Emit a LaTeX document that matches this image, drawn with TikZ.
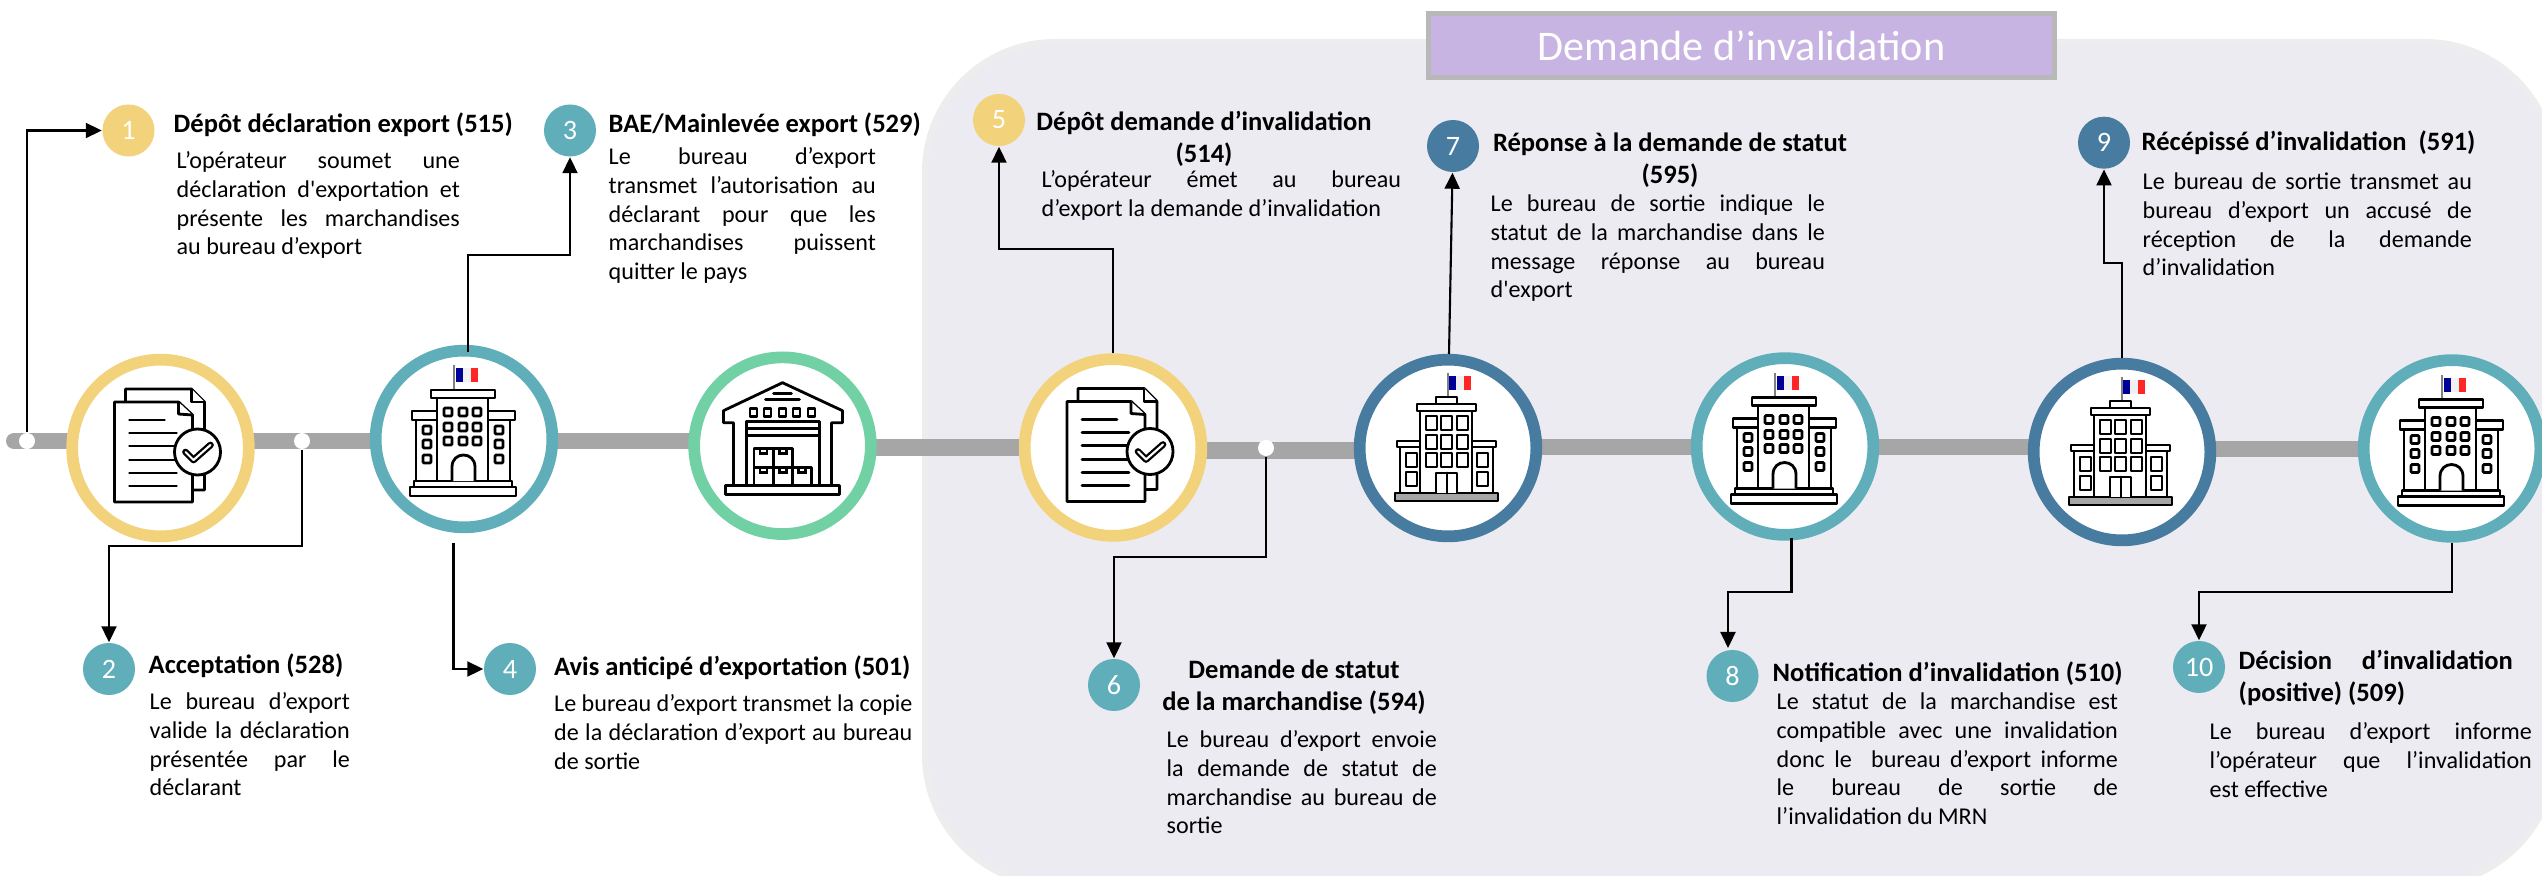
\documentclass[tikz,border=0pt]{standalone}
\usepackage{fontspec}
\setmainfont[Ligatures=TeXOff]{Carlito}
\usetikzlibrary{arrows.meta,backgrounds}
\definecolor{sandy}{HTML}{F2D27A}
\definecolor{teal}{HTML}{5FAEB9}
\definecolor{steel}{HTML}{477BA0}
\definecolor{mint}{HTML}{72D1A4}
\definecolor{panel}{HTML}{EDEBF2}
\definecolor{lilac}{HTML}{C7B4E2}
\definecolor{track}{HTML}{A6A6A6}
\tikzset{
	ring/.style={circle,draw,fill=white,line width=0.117cm,minimum size=1.766cm,inner sep=0pt},
	badge/.style={circle,text=white,minimum size=0.52cm,inner sep=0pt,font=\fontsize{8}{9}\selectfont},
	dot/.style={circle,fill=white,minimum size=0.16cm,inner sep=0pt},
	trackline/.style={draw=track,line width=0.16cm},
	flow/.style={line width=0.6pt,-{Triangle[length=0.16cm,width=0.15cm]}},
	heading/.style={anchor=base west,inner sep=0pt,font=\fontsize{7.55}{9.1}\selectfont\bfseries},
	headingbox/.style={anchor=north,inner sep=0pt,align=center,execute at begin node=\strut,font=\fontsize{7.55}{9.1}\selectfont\bfseries},
	bodytext/.style={anchor=north west,inner sep=0pt,align=justify,execute at begin node=\strut,font=\fontsize{6.85}{8.16}\selectfont},
	icon/.style={draw=black,fill=white,line width=0.8pt,line join=round},
	iconline/.style={draw=black,line width=0.8pt,line cap=round},
	tricolor/.pic={
		\fill[blue!60!black] (0,0) rectangle (7.3,14);
		\fill[black!6] (7.3,0) rectangle (14.6,14);
		\fill[red!80!pink] (14.6,0) rectangle (22,14);
	},
	docicon/.pic={
		\draw[icon] (-35,-46) -- (-35,-59) -- (31,-59) -- (44,-46) -- (44,42) -- (30,42);
		\draw[icon] (31,-59) -- (31,-46) -- (44,-46);
		\draw[icon] (-46,-46) -- (18,-46) -- (32,-33) -- (32,54) -- (-46,54) -- cycle;
		\draw[icon] (18,-46) -- (18,-34) -- (32,-33);
		\draw[iconline] (-31,-28) -- (4,-28);
		\draw[iconline] (-31,-15) -- (16,-15);
		\draw[iconline] (-31,-2) -- (16,-2);
		\draw[iconline] (-31,12) -- (16,12);
		\draw[iconline] (-31,25) -- (16,25);
		\draw[iconline] (-31,38) -- (16,38);
		\draw[icon] (37,4) circle (0.23cm);
		\draw[line width=1.9pt,line join=round,line cap=round] (25,4) -- (33,12) -- (50,-3);
		\draw[white,line width=0.6pt,line join=round,line cap=round] (25,4) -- (33,12) -- (50,-3);
	},
	townhall/.pic={
		\pic at (-8,-71) {tricolor};
		\draw[gray,line width=0.5pt] (-10,-74) -- (-10,-50);
		\draw[icon] (-48,-19) rectangle (-27,42);
		\draw[icon] (24,-19) rectangle (46,42);
		\draw[icon] (-52,-28) rectangle (-27,-19);
		\draw[icon] (24,-28) rectangle (51,-19);
		\draw[icon] (-27,-41) rectangle (24,42);
		\draw[icon] (-33,-49) rectangle (31,-41);
		\draw[icon] (-50,42) rectangle (48,48);
		\draw[icon] (-54,48) rectangle (52,57);
		\draw[icon] (-12,42) -- (-12,28) .. controls (-12,12) and (11,12) .. (11,28) -- (11,42);
		\foreach \wx/\wy in {-16/-27,-1/-27,13/-27,-16/-12,-1/-12,13/-12,-16/2,-1/2,13/2,-37/-9,-37/5,-37/20,35/-9,35/5,35/20}
			\draw[icon,rounded corners=0.3pt] (\wx-4,\wy-4) rectangle (\wx+4,\wy+4);
	},
	tallhall/.pic={
		\pic at (1,-72) {tricolor};
		\draw[gray,line width=0.5pt] (0,-75) -- (0,-51);
		\draw[icon] (-12,-51) rectangle (9,-44);
		\draw[icon] (-48,-1) rectangle (-28,45);
		\draw[icon] (24,-1) rectangle (45,45);
		\draw[icon] (-51,-7) rectangle (-28,-1);
		\draw[icon] (24,-7) rectangle (48,-1);
		\draw[icon] (-28,-37) rectangle (24,45);
		\draw[icon] (-31,-44) rectangle (28,-37);
		\draw[icon,fill=black!35] (-53,45) rectangle (50,53);
		\draw[icon] (-12,45) -- (-12,25) -- (9,25) -- (9,45);
		\draw[iconline] (-1,25) -- (-1,45);
		\foreach \wx in {-22,-7,9}
			\foreach \wy in {-32,-13,5}
				\draw[icon] (\wx,\wy) rectangle (\wx+11,\wy+14);
		\foreach \wx in {-42,29}
			\foreach \wy in {5,24}
				\draw[icon] (\wx,\wy) rectangle (\wx+11,\wy+14);
	},
	depoticon/.pic={
		\draw[icon] (-49,41) -- (-49,-23) -- (-59,-23) -- (-59,-35) -- (0,-63) -- (60,-35) -- (60,-23) -- (49,-23) -- (49,41);
		\draw[iconline] (-9,-52) -- (9,-52);
		\draw[iconline] (-17,-46) -- (17,-46);
		\foreach \wx in {-29,-15,0,14,29}
			\draw[icon] (\wx-3.5,-37) rectangle (\wx+3.5,-29);
		\draw[icon] (-36,41) -- (-36,-24) -- (37,-24) -- (37,41);
		\draw[iconline] (-36,-17) -- (37,-17);
		\draw[iconline] (-36,-10) -- (37,-10);
		\foreach \bx/\by in {-28.5/3,-9/3,-28.5/22,-9/22,10/22} {
			\draw[icon] (\bx,\by) rectangle (\bx+19,\by+19);
			\draw[iconline] (\bx+6,\by) -- (\bx+6,\by+5) -- (\bx+13,\by+5) -- (\bx+13,\by);
		}
		\draw[icon] (-57,40) rectangle (57,49);
	}
}
\begin{document}
\begin{tikzpicture}[x=0.01cm,y=-0.01cm]
	\useasboundingbox (0,0) rectangle (2542,876);

	\node[ring,draw=sandy] (r1) at (160.5,448) {};
	\node[ring,draw=teal] (r2) at (464,439) {};
	\node[ring,draw=mint] (r3) at (782.5,445.7) {};
	\node[ring,draw=sandy] (r4) at (1113,447.5) {};
	\node[ring,draw=steel] (r5) at (1448,448) {};
	\node[ring,draw=teal] (r6) at (1785,446.5) {};
	\node[ring,draw=steel] (r7) at (2122,452) {};
	\node[ring,draw=teal] (r8) at (2452,448.5) {};

	\pic at (r1) {docicon};
	\pic at (r2) {townhall};
	\pic at (r3) {depoticon};
	\pic at (r4) {docicon};
	\pic at (r5) {tallhall};
	\pic at (r6) {townhall};
	\pic at (r7) {tallhall};
	\pic at (r8) {townhall};

	\coordinate (t0) at (14,441);
	\begin{scope}[on background layer]
		\fill[panel,draw=black!7,line width=0.06cm,rounded corners=1.3cm] (925,42) rectangle (2555,885);
		\draw[trackline,line cap=round] (t0) -- (t0 -| r2);
		\draw[trackline] (r2 |- 0,441) -- (r3 |- 0,441);
		\draw[trackline] (r3 |- 0,447.5) -- (r4 |- 0,447.5);
		\draw[trackline] (r4 |- 0,450.5) -- (r5 |- 0,450.5);
		\draw[trackline] (r5 |- 0,447) -- (r6 |- 0,447);
		\draw[trackline] (r6 |- 0,447) -- (r7 |- 0,447);
		\draw[trackline] (r7 |- 0,449) -- (r8 |- 0,449);
	\end{scope}

	\node[dot] (d1) at (27,441) {};
	\node[dot] (d2) at (302,441) {};
	\node[dot] (d3) at (1266,448) {};

	\node[badge,fill=sandy] (b1) at (128.5,130.5) {1};
	\node[badge,fill=teal] (b2) at (109,669) {2};
	\node[badge,fill=teal] (b3) at (570,130.5) {3};
	\node[badge,fill=teal] (b4) at (510,669) {4};
	\node[badge,fill=sandy] (b5) at (999,120) {5};
	\node[badge,fill=teal] (b6) at (1114,685) {6};
	\node[badge,fill=steel] (b7) at (1453,146) {7};
	\node[badge,fill=teal] (b8) at (1732.5,676) {8};
	\node[badge,fill=steel] (b9) at (2104,142.7) {9};
	\node[badge,fill=teal] (b10) at (2199,667) {10};

	\coordinate (s3) at (468,352);
	\coordinate (s4) at (453.5,543);
	\coordinate (s7) at (1449,354);
	\coordinate (s8) at (1791.5,538);
	\coordinate (e8) at (1728,648);

	\draw[flow] (d1) |- (b1);
	\draw[flow] (d2.south) -- ++(0,96) -| (b2);
	\draw[flow] (s3) -- ++(0,-97) -| (b3);
	\draw[flow] (s4) |- (b4);
	\draw[flow] (r4.north) -- ++(0,-104) -| (b5);
	\draw[flow] (d3.south) -- ++(0,100) -| (b6);
	\draw[flow] (s7) -- (b7);
	\draw[flow] (s8) -- ++(0,54) -| (e8);
	\draw[flow] (r7.north) -- ++(0,-95) -| (b9);
	\draw[flow] (r8.south) -- ++(0,49) -| (b10);

	\node[heading] (h1) at (173,133) {Dépôt déclaration export (515)};
	\node[heading] (h2) at (148,673) {Acceptation (528)};
	\node[heading] (h3) at (608,133) {BAE/Mainlevée export (529)};
	\node[heading] (h4) at (553.5,675) {Avis anticipé d’exportation (501)};
	\node[headingbox] (h5) at (1204,110) {Dépôt demande d’invalidation\\(514)};
	\node[headingbox] (h6) at (1294,659) {Demande de statut\\de la marchandise (594)};
	\node[headingbox] (h7) at (1670,132) {Réponse à la demande de statut\\(595)};
	\node[heading] (h8) at (1772,681) {Notification d’invalidation (510)};
	\node[heading] (h9) at (2141,151) {Récépissé d’invalidation~~(591)};
	\node[headingbox,anchor=north west,align=justify,text width=2.74cm] (h10) at (2238,646) {Décision d’invalidation\linebreak (positive) (509)};

	\node[bodytext,text width=2.83cm] (t1) at (176,148) {L’opérateur soumet une\linebreak déclaration d'exportation et\linebreak présente les marchandises\linebreak au bureau d’export};
	\node[bodytext,text width=2.00cm] (t2) at (149,689) {Le bureau d’export\linebreak valide la déclaration\linebreak présentée par le\linebreak déclarant};
	\node[bodytext,text width=2.67cm] (t3) at (608,144) {Le bureau d’export\linebreak transmet l’autorisation au\linebreak déclarant pour que les\linebreak marchandises puissent\linebreak quitter le pays};
	\node[bodytext,text width=3.58cm] (t4) at (553.5,691) {Le bureau d’export transmet la copie\linebreak de la déclaration d’export au bureau\linebreak de sortie};
	\node[bodytext,text width=3.59cm] (t5) at (1041,167) {L’opérateur émet au bureau\linebreak d’export la demande d’invalidation};
	\node[bodytext,text width=2.70cm] (t6) at (1166,727) {Le bureau d’export envoie\linebreak la demande de statut de\linebreak marchandise au bureau de\linebreak sortie};
	\node[bodytext,text width=3.34cm] (t7) at (1490,191) {Le bureau de sortie indique le\linebreak statut de la marchandise dans le\linebreak message réponse au bureau\linebreak d'export};
	\node[bodytext,text width=3.41cm] (t8) at (1776,689) {Le statut de la marchandise est\linebreak compatible avec une invalidation\linebreak donc le~~bureau d’export informe\linebreak le bureau de sortie de\linebreak l’invalidation du MRN};
	\node[bodytext,text width=3.29cm] (t9) at (2142,169) {Le bureau de sortie transmet au\linebreak bureau d’export un accusé de\linebreak réception de la demande\linebreak d’invalidation};
	\node[bodytext,text width=3.22cm] (t10) at (2209,719) {Le bureau d’export informe\linebreak l’opérateur que l’invalidation\linebreak est effective};

	\node[fill=lilac,draw=black!28,line width=0.05cm,text=white,minimum width=6.26cm,minimum height=0.63cm,inner sep=0pt,font=\fontsize{12}{14}\selectfont] (banner) at (1741.5,45.5) {Demande d’invalidation};
\end{tikzpicture}
\end{document}
